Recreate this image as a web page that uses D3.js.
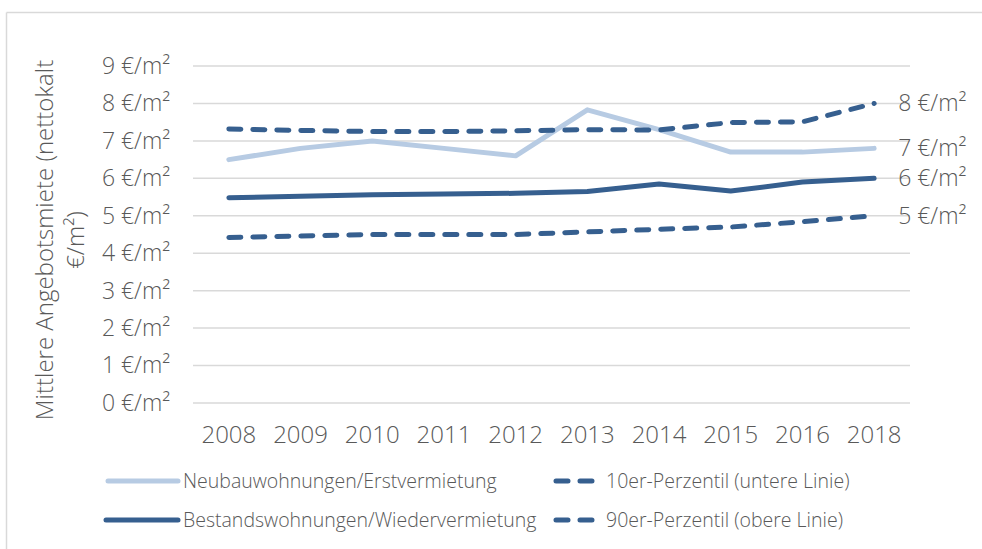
<!DOCTYPE html>
<html><head><meta charset="utf-8">
<script src="https://cdn.jsdelivr.net/npm/d3@7"></script>
<style>html,body{margin:0;padding:0;background:#fff;}svg{display:block;}</style>
</head><body>
<svg id="chart" width="982" height="549"></svg>
<script>
const years = ["2008","2009","2010","2011","2012","2013","2014","2015","2016","2018"];
const neubau = [6.5, 6.8, 7.0, 6.8, 6.6, 7.83, 7.3, 6.7, 6.7, 6.8];
const bestand = [5.48, 5.52, 5.56, 5.58, 5.6, 5.65, 5.85, 5.66, 5.9, 6.0];
const p90 = [7.32, 7.28, 7.25, 7.25, 7.27, 7.3, 7.29, 7.49, 7.51, 8.0];
const p10 = [4.42, 4.46, 4.5, 4.5, 4.5, 4.57, 4.64, 4.7, 4.84, 5.0];
const yTicks = [0,1,2,3,4,5,6,7,8,9];
const seriesNames = ["Neubauwohnungen/Erstvermietung","Bestandswohnungen/Wiedervermietung","10er-Perzentil (untere Linie)","90er-Perzentil (obere Linie)"];
const yTitle = ["Mittlere Angebotsmiete (nettokalt", "€/m²)"];

const dark = "#365f8f", light = "#b7cbe3", txt = "#595959", grid = "#d9d9d9";
const font = "'Open Sans', sans-serif";
const svg = d3.select("#chart");

// frame
svg.append("line").attr("x1",6.5).attr("x2",982).attr("y1",12.5).attr("y2",12.5).attr("stroke",grid).attr("stroke-width",1.5);
svg.append("line").attr("x1",6.5).attr("x2",6.5).attr("y1",12.5).attr("y2",549).attr("stroke",grid).attr("stroke-width",1.5);

const x = d3.scaleBand().domain(years).range([193, 910]);
const y = d3.scaleLinear().domain([0, 9]).range([403, 66]);

// grid
svg.append("g").selectAll("line").data(yTicks).join("line")
  .attr("x1",193).attr("x2",910).attr("y1",d=>y(d)).attr("y2",d=>y(d))
  .attr("stroke",grid).attr("stroke-width",1.5);

// y tick labels
const yAxis = d3.axisLeft(y).tickValues(yTicks).tickSize(0).tickPadding(0).tickFormat(d=>d+" €/m²");
const gy = svg.append("g").attr("transform","translate(170,0)").call(yAxis);
gy.select(".domain").remove();
gy.selectAll("text").attr("fill",txt).style("font-family",font).style("font-size","23px").style("font-weight","300");

// x tick labels
const xAxis = d3.axisBottom(x).tickSize(0).tickPadding(0);
const gx = svg.append("g").attr("transform","translate(0,426)").call(xAxis);
gx.select(".domain").remove();
gx.selectAll("text").attr("fill",txt).style("font-family",font).style("font-size","24px").style("font-weight","300");

// y title
const tt = svg.append("text").attr("transform","translate(53,240) rotate(-90)")
  .attr("text-anchor","middle").attr("fill",txt).style("font-family",font).style("font-size","24px").style("font-weight","300");
tt.append("tspan").attr("x",0).attr("dy",0).text(yTitle[0]);
tt.append("tspan").attr("x",0).attr("dy",31).text(yTitle[1]);

const line = d3.line().x((d,i)=>x(years[i])+x.bandwidth()/2).y(d=>y(d));
const series = [
  {v:neubau, c:light, dash:null},
  {v:bestand, c:dark, dash:null},
  {v:p10, c:dark, dash:"12 12"},
  {v:p90, c:dark, dash:"12 12"}
];
series.forEach(s=>{
  svg.append("path").attr("d",line(s.v)).attr("fill","none").attr("stroke",s.c)
    .attr("stroke-width",5).attr("stroke-linejoin","round")
    .attr("stroke-linecap", "round")
    .attr("stroke-dasharray", s.dash);
  const last = s.v[s.v.length-1];
  svg.append("text").attr("x", x(years[years.length-1])+x.bandwidth()/2+24).attr("y", y(last))
    .attr("dy","0.35em").attr("fill",txt).style("font-family",font).style("font-size","23px").style("font-weight","300")
    .text(Math.round(last)+" €/m²");
});

// legend
const leg = [
  {name:seriesNames[0], c:light, dash:null, x1:108, x2:178, tx:183, y:481},
  {name:seriesNames[1], c:dark, dash:null, x1:106, x2:178, tx:183, y:520},
  {name:seriesNames[2], c:dark, dash:"12 12", x1:556, x2:598, tx:606, y:481},
  {name:seriesNames[3], c:dark, dash:"12 12", x1:556, x2:598, tx:606, y:520}
];
leg.forEach(l=>{
  svg.append("line").attr("x1",l.x1).attr("x2",l.x2).attr("y1",l.y).attr("y2",l.y)
    .attr("stroke",l.c).attr("stroke-width",5).attr("stroke-linecap","round").attr("stroke-dasharray",l.dash);
  svg.append("text").attr("x",l.tx).attr("y",l.y).attr("dy","0.35em").attr("fill",txt)
    .style("font-family",font).style("font-size","19.5px").style("font-weight","300").text(l.name);
});
</script>
</body></html>
